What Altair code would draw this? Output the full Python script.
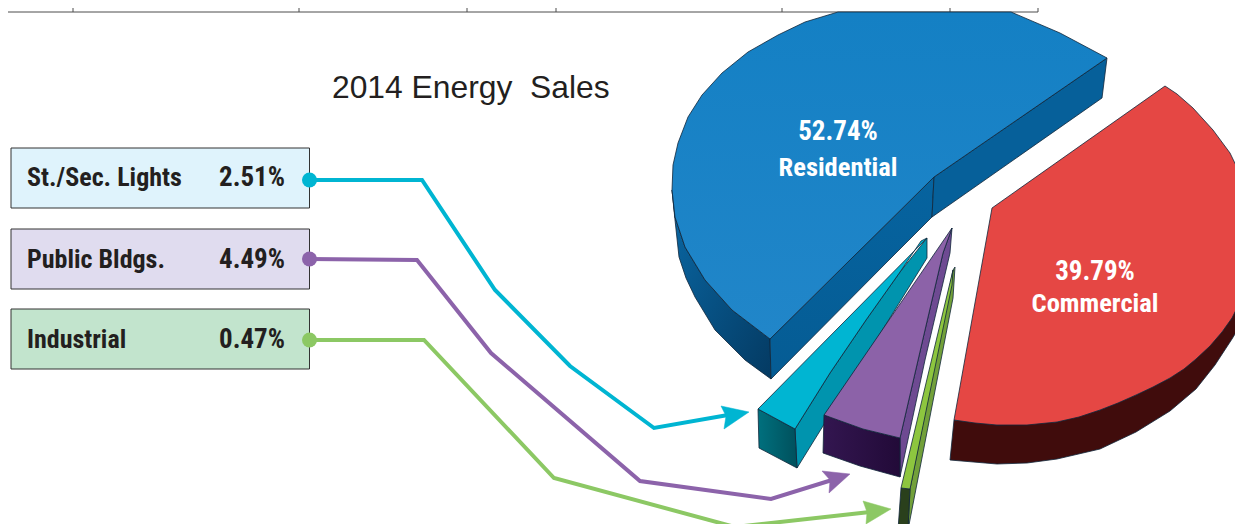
import altair as alt
import pandas as pd

W, H, M = 1227, 516, 8
NARROW = "'Roboto Condensed','Open Sans Condensed','Noto Sans Condensed','DejaVu Sans Condensed','Lato',sans-serif"
DARK = "#231f20"
OUT = "#10263a"

blue_side_left = [(672, 190), (675, 220), (679, 257), (686, 278), (695, 297), (715, 330), (745, 360), (771, 379), (770, 339), (732, 310), (705, 280), (685, 247), (675, 217)]
blue_side_in = [(934, 177), (932, 217), (890, 259), (771, 379), (770, 339)]
blue_side_out = [(1107, 58), (1102, 98), (932, 217), (934, 177)]
blue_top = [(1107, 58), (1060, 33), (1011, 12), (838, 12), (805, 22), (778, 35), (748, 52), (722, 73), (702, 95), (688, 117), (678, 143), (673, 165), (672, 190), (675, 217), (685, 247), (705, 280), (732, 310), (770, 339), (934, 177)]
red_side = [(954, 420), (997, 425), (1057, 422), (1100, 410), (1136, 395), (1170, 378), (1196, 359), (1222, 332), (1240, 302), (1260, 260), (1262, 290), (1232, 339), (1215, 365), (1196, 389), (1170, 411), (1136, 432), (1100, 449), (1057, 459), (1027, 463), (997, 464), (950, 460)]
red_top = [(1165, 86), (1177, 94), (1193, 108), (1213, 130), (1230, 153), (1243, 180), (1255, 212), (1262, 245), (1258, 270), (1240, 302), (1232, 318), (1222, 332), (1210, 346), (1196, 359), (1184, 369), (1170, 378), (1153, 387), (1136, 395), (1118, 403), (1100, 410), (1079, 417), (1057, 422), (1027, 425), (997, 425), (975, 423), (954, 420), (992, 208)]
teal_side = [(927, 238), (927, 258), (797, 468), (795, 429), (830, 373), (866, 320), (900, 272)]
teal_front = [(758, 409), (795, 429), (797, 468), (759, 448)]
teal_top = [(927, 238), (758, 409), (795, 429), (830, 373), (866, 320), (900, 272), (921, 241)]
purple_side = [(952, 228), (950, 253), (925, 360), (900, 477), (900, 438), (925, 330), (943, 253)]
purple_front = [(824, 415), (863, 429), (900, 438), (900, 477), (860, 466), (823, 453)]
purple_top = [(952, 228), (824, 415), (863, 429), (900, 438), (925, 330), (943, 253)]
green_side = [(955, 267), (953, 298), (908, 530), (910, 489), (953, 270)]
green_front = [(901, 488), (910, 489), (908, 530), (898, 530)]
green_top = [(953, 270), (901, 488), (910, 489), (952, 285)]
cyan_head = [(749, 412), (721, 406), (726, 416), (724, 429)]
violet_head = [(850, 474), (822, 471), (830, 480), (829, 493)]
lime_head = [(891, 509), (863, 501), (867, 512), (866, 524)]

cyan_path = [(309, 180), (422, 180), (495, 290), (570, 366), (654, 428), (728, 415)]
violet_path = [(309, 259), (417, 260), (491, 353), (640, 481), (771, 499), (832, 480)]
lime_path = [(309, 340), (424, 340), (554, 478), (735, 527), (870, 512)]

boxes = ["St./Sec. Lights", "Public Bldgs.", "Industrial"]
box_values = ["2.51%", "4.49%", "0.47%"]
box_fill = ["#dff3fc", "#e0dcef", "#c2e4cd"]
box_top = [148, 229, 309]
box_bottom = [208, 289, 369]
text_y = [178, 260, 340]
line_colors = ["#00b5d2", "#8c63aa", "#8cc864"]
dot_y = [180, 259, 340]

table_x = [73, 299, 467, 556, 782, 950, 1038]

x_s = alt.Scale(domain=[M, M + W], range=[0, W])
y_s = alt.Scale(domain=[M, M + H], range=[0, H])
X = lambda f="x": alt.X(f"{f}:Q", scale=x_s, axis=None)
Y = lambda f="y": alt.Y(f"{f}:Q", scale=y_s, axis=None)


def poly(pts, fill, stroke=OUT, sw=0.8):
    d = pd.DataFrame({"x": [p[0] for p in pts] + [pts[0][0]],
                      "y": [p[1] for p in pts] + [pts[0][1]],
                      "i": range(len(pts) + 1)})
    return alt.Chart(d).mark_line(fill=fill, stroke=stroke, strokeWidth=sw, clip=True).encode(
        x=X(), y=Y(), order=alt.Order("i:Q"))


def path(pts, color):
    d = pd.DataFrame({"x": [p[0] for p in pts], "y": [p[1] for p in pts], "i": range(len(pts))})
    return alt.Chart(d).mark_line(stroke=color, strokeWidth=4, clip=True).encode(
        x=X(), y=Y(), order=alt.Order("i:Q"))


def grad(c1, c2, x2=0, y2=1):
    return alt.Gradient(gradient="linear", x1=0, y1=0, x2=x2, y2=y2,
                        stops=[alt.GradientStop(color=c1, offset=0), alt.GradientStop(color=c2, offset=1)])


layers = []
layers.append(alt.Chart(pd.DataFrame({"x": [M], "x2": [1038], "y": [12]})).mark_rule(color="#4d4d4d", strokeWidth=1).encode(
    x=X(), x2="x2:Q", y=Y()))
layers.append(alt.Chart(pd.DataFrame({"x": table_x, "y": [M] * 7, "y2": [12] * 7})).mark_rule(color="#4d4d4d", strokeWidth=1).encode(
    x=X(), y=Y(), y2="y2:Q"))

layers += [
    poly(blue_side_left, grad("#0a68a5", "#043a62", 1, 1)),
    poly(blue_side_in, grad("#06639f", "#055c94")),
    poly(blue_side_out, "#06609a"),
    poly(blue_top, grad("#1480c4", "#2186c9")),
    poly(red_side, "#400c0c"),
    poly(red_top, "#e54744"),
    poly(teal_side, "#0094ae"),
    poly(teal_front, grad("#00707e", "#00505c", 1, 0)),
    poly(teal_top, "#00b5d2"),
    poly(purple_side, "#6e4a92"),
    poly(purple_front, grad("#331650", "#220a38", 1, 0)),
    poly(purple_top, "#8c62a8"),
    poly(green_side, "#72a03a"),
    poly(green_front, "#2a401c"),
    poly(green_top, "#8dc63f"),
]

for pts, head, c in zip([cyan_path, violet_path, lime_path], [cyan_head, violet_head, lime_head], line_colors):
    layers.append(path(pts, c))
    layers.append(poly(head, c, stroke=c, sw=0.5))

bx = pd.DataFrame({"x": [11] * 3, "x2": [309.5] * 3, "y": box_top, "y2": box_bottom,
                   "fill": box_fill, "name": boxes, "value": box_values, "ty": text_y,
                   "dot": dot_y, "line": line_colors, "vx": [285] * 3, "nx": [27] * 3, "dx": [309.5] * 3})
layers.append(alt.Chart(bx).mark_rect(stroke="#333333", strokeWidth=1).encode(
    x=X(), x2="x2:Q", y=Y(), y2="y2:Q", fill=alt.Fill("fill:N", scale=None)))
layers.append(alt.Chart(bx).mark_text(align="left", baseline="middle", font=NARROW, fontWeight="bold", fontSize=26, color=DARK).encode(
    x=X("nx"), y=Y("ty"), text="name:N"))
layers.append(alt.Chart(bx).mark_text(align="right", baseline="middle", font=NARROW, fontWeight="bold", fontSize=27, color=DARK).encode(
    x=X("vx"), y=Y("ty"), text="value:N"))
layers.append(alt.Chart(bx).mark_circle(size=225, opacity=1).encode(
    x=X("dx"), y=Y("dot"), fill=alt.Fill("line:N", scale=None)))

pct_x = [838, 1095]
pct_y = [132, 272]
pct_t = ["52.74%", "39.79%"]
name_y = [168, 304]
name_t = ["Residential", "Commercial"]
layers.append(alt.Chart(pd.DataFrame({"x": pct_x, "y": pct_y, "t": pct_t})).mark_text(
    font=NARROW, fontWeight="bold", fontSize=27, color="white", baseline="middle").encode(x=X(), y=Y(), text="t:N"))
layers.append(alt.Chart(pd.DataFrame({"x": pct_x, "y": name_y, "t": name_t})).mark_text(
    font=NARROW, fontWeight="bold", fontSize=26.5, color="white", baseline="middle").encode(x=X(), y=Y(), text="t:N"))

layers.append(alt.Chart(pd.DataFrame({"x": [332], "y": [98], "t": ["2014 Energy\u00a0\u00a0Sales"]})).mark_text(
    font="Liberation Sans", fontSize=31.8, color=DARK, align="left", baseline="alphabetic").encode(
    x=X(), y=Y(), text="t:N"))

chart = alt.layer(*layers).properties(width=W, height=H, padding=0, background="white",
                                      autosize=alt.AutoSizeParams(type="none")).configure_view(stroke=None)
chart.save("out.html", embed_options={"renderer": "svg", "actions": False})
